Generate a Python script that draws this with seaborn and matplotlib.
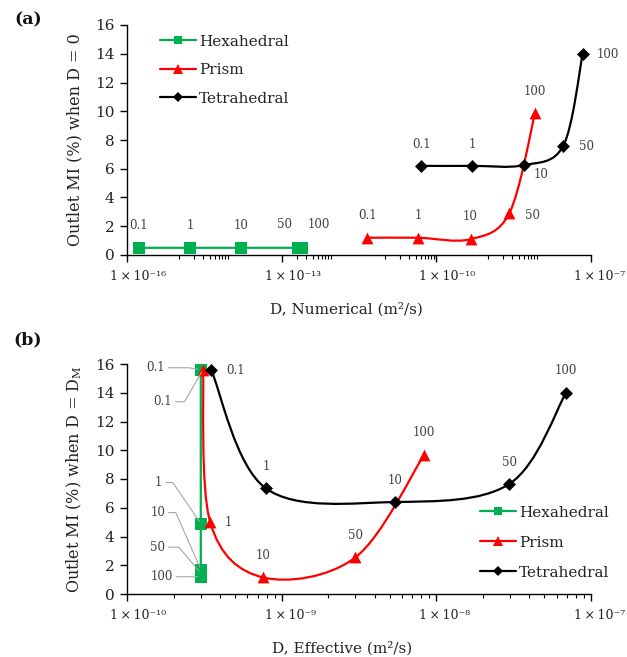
import numpy as np
import pandas as pd
import matplotlib
matplotlib.use("Agg")
import matplotlib.pyplot as plt
import seaborn as sns
from matplotlib.path import Path
from matplotlib.patches import PathPatch
from matplotlib.lines import Line2D
from matplotlib.ticker import FixedLocator, FixedFormatter, NullFormatter
from matplotlib.transforms import ScaledTranslation

# ---------------------------------------------------------------- data
mesh_types = ["Hexahedral", "Prism", "Tetrahedral"]
point_labels = ["0.1", "1", "10", "50", "100"]

# (a) outlet mixing index vs numerical diffusivity (m2/s), D = 0
hex_d_num = [1.7e-16, 1.7e-15, 1.6e-14, 2.1e-13, 2.5e-13]
hex_mi_num = [0.5, 0.5, 0.5, 0.5, 0.5]
prism_d_num = [4.6e-12, 4.4e-11, 4.6e-10, 2.6e-9, 8.2e-9]
prism_mi_num = [1.2, 1.2, 1.1, 2.9, 9.85]
tetra_d_num = [5.1e-11, 4.9e-10, 5.0e-9, 2.9e-8, 6.9e-8]
tetra_mi_num = [6.2, 6.2, 6.25, 7.6, 14.0]

# (b) outlet mixing index vs effective diffusivity (m2/s), D = DM
hex_d_eff = [3.0e-10, 3.0e-10, 3.0e-10, 3.0e-10, 3.0e-10]
hex_mi_eff = [15.6, 4.9, 1.7, 1.45, 1.2]
prism_d_eff = [3.1e-10, 3.45e-10, 7.6e-10, 3.0e-9, 8.35e-9]
prism_mi_eff = [15.6, 5.0, 1.15, 2.55, 9.7]
tetra_d_eff = [3.5e-10, 7.9e-10, 5.4e-9, 2.96e-8, 6.9e-8]
tetra_mi_eff = [15.6, 7.35, 6.4, 7.65, 14.0]

# ---------------------------------------------------------------- style
sns.set_theme(style="ticks")
plt.rcParams["font.family"] = ["DejaVu Serif"]
plt.rcParams["mathtext.fontset"] = "dejavuserif"

colors = {"Hexahedral": "#00B050", "Prism": "#FF0000", "Tetrahedral": "#000000"}
markers = {"Hexahedral": "s", "Prism": "^", "Tetrahedral": "D"}
marker_area = {"Hexahedral": 8.0 ** 2, "Prism": 8.5 ** 2, "Tetrahedral": 6.6 ** 2}
legend_ms = {"Hexahedral": 5.5, "Prism": 6.5, "Tetrahedral": 5.0}
LABEL_COLOR = "#404040"
LEADER_COLOR = "#A6A6A6"
TEXT_COLOR = "#222222"

SUPERSCRIPT = str.maketrans("-0123456789", "⁻⁰¹²³⁴⁵⁶⁷⁸⁹")


def power_label(value):
    exponent = int(round(np.log10(value)))
    return "1\u2009×\u200910" + str(exponent).translate(SUPERSCRIPT)


def make_frame(d_lists, mi_lists):
    rows = []
    for name, dv, mv in zip(mesh_types, d_lists, mi_lists):
        for lbl, d, m in zip(point_labels, dv, mv):
            rows.append({"mesh": name, "D": d, "MI": m, "label": lbl})
    return pd.DataFrame(rows)


df_num = make_frame([hex_d_num, prism_d_num, tetra_d_num],
                    [hex_mi_num, prism_mi_num, tetra_mi_num])
df_eff = make_frame([hex_d_eff, prism_d_eff, tetra_d_eff],
                    [hex_mi_eff, prism_mi_eff, tetra_mi_eff])


def smooth_path(xs, ys):
    """Cubic Bezier (Catmull-Rom style) path through the points in log-x space."""
    pts = np.column_stack([np.log10(np.asarray(xs, float)), np.asarray(ys, float)])
    n = len(pts)
    verts = [pts[0]]
    codes = [Path.MOVETO]
    for i in range(n - 1):
        p0 = pts[max(i - 1, 0)]
        p1 = pts[i]
        p2 = pts[i + 1]
        p3 = pts[min(i + 2, n - 1)]
        c1 = p1 + (p2 - p0) / 6.0
        c2 = p2 - (p3 - p1) / 6.0
        verts += [c1, c2, p2]
        codes += [Path.CURVE4] * 3
    verts = np.array(verts)
    verts[:, 0] = 10 ** verts[:, 0]
    return Path(verts, codes)


def draw_series(ax, df):
    for k, name in enumerate(mesh_types):
        sub = df[df["mesh"] == name]
        patch = PathPatch(smooth_path(sub["D"], sub["MI"]), facecolor="none",
                          edgecolor=colors[name], lw=1.6, zorder=3 + k,
                          capstyle="round", joinstyle="round")
        ax.add_patch(patch)
        sns.scatterplot(data=sub, x="D", y="MI", marker=markers[name],
                        color=colors[name], s=marker_area[name], linewidth=0,
                        legend=False, ax=ax, zorder=3.5 + k)


def annotate_points(ax, df, offsets, leaders=None):
    leaders = leaders or {}
    for name in mesh_types:
        sub = df[df["mesh"] == name].reset_index(drop=True)
        for i, row in sub.iterrows():
            dx, dy = offsets[name][i]
            kw = dict(textcoords="offset pixels", ha="center", va="center",
                      fontsize=8.5, color=LABEL_COLOR, zorder=10)
            key = (name, i)
            if key in leaders:
                cx, cy = leaders[key]
                if abs(cy) < 0.5:
                    conn = "arc3,rad=0"
                else:
                    ang = np.degrees(np.arctan2(cy, cx))
                    conn = f"angle,angleA=0,angleB={ang:.2f},rad=0"
                kw["arrowprops"] = dict(arrowstyle="-", color=LEADER_COLOR, lw=0.8,
                                        shrinkA=0, shrinkB=2, relpos=(1, 0.5),
                                        connectionstyle=conn)
            ax.annotate(row["label"], xy=(row["D"], row["MI"]), xytext=(dx, dy), **kw)


def style_axes(ax, xmin, xmax, majors, minors, xlabel, ylabel, xlabel_x):
    ax.set_xscale("log")
    ax.set_xlim(xmin, xmax)
    ax.set_ylim(0, 16)
    ax.set_yticks(np.arange(0, 17, 2))
    ax.xaxis.set_major_locator(FixedLocator(majors))
    ax.xaxis.set_major_formatter(FixedFormatter([power_label(m) for m in majors]))
    ax.xaxis.set_minor_locator(FixedLocator(minors))
    ax.xaxis.set_minor_formatter(NullFormatter())
    for s in ("top", "right"):
        ax.spines[s].set_visible(False)
    for s in ("left", "bottom"):
        ax.spines[s].set_color("#000000")
        ax.spines[s].set_linewidth(1.0)
    ax.tick_params(axis="y", which="major", direction="out", length=5, width=1,
                   color="#000000", labelsize=11, labelcolor=TEXT_COLOR, pad=4)
    ax.tick_params(axis="x", which="major", direction="out", length=5, width=1,
                   color="#000000", labelsize=9, labelcolor=TEXT_COLOR, pad=6)
    ax.tick_params(axis="x", which="minor", direction="out", length=3, width=0.8,
                   color="#000000")
    shift = ScaledTranslation(-17 / 100, 0, ax.figure.dpi_scale_trans)
    for lab in ax.get_xticklabels():
        lab.set_horizontalalignment("left")
        lab.set_transform(lab.get_transform() + shift)
    ax.set_xlabel(xlabel, fontsize=11, color=TEXT_COLOR)
    ax.set_ylabel(ylabel, fontsize=11.5, color=TEXT_COLOR)
    ax.xaxis.set_label_coords(xlabel_x, -0.205)
    ax.yaxis.set_label_coords(-0.093, 0.5)
    ax.set_facecolor("white")
    ax.grid(False)


def add_legend(ax, anchor, spacing):
    handles = [Line2D([], [], color=colors[n], marker=markers[n], ms=legend_ms[n],
                      lw=1.6, markeredgewidth=0) for n in mesh_types]
    ax.legend(handles, mesh_types, loc="upper left", bbox_to_anchor=anchor,
              frameon=False, fontsize=11, handlelength=2.35, handletextpad=0.2,
              labelspacing=spacing, borderpad=0, borderaxespad=0,
              labelcolor=TEXT_COLOR)


fig = plt.figure(figsize=(6.27, 6.57), dpi=100)
fig.patch.set_facecolor("white")
W, H = 627, 657
ax_a = fig.add_axes([127 / W, 1 - 255 / H, 464 / W, 230 / H])
ax_b = fig.add_axes([127 / W, 1 - 594 / H, 464 / W, 230 / H])

# ---------------------------------------------------------------- panel (a)
draw_series(ax_a, df_num)
minors_a = ([k * 1e-15 for k in range(1, 10)]
            + [k * 1e-13 for k in range(2, 10)]
            + [k * 1e-11 for k in range(1, 10)]
            + [k * 1e-9 for k in range(1, 10)])
style_axes(ax_a, 1e-16, 1e-7, [1e-16, 1e-13, 1e-10, 1e-7], minors_a,
           "D, Numerical (m²/s)", "Outlet MI (%) when D = 0", 0.474)
offsets_a = {
    "Hexahedral": [(0, 22), (0, 22), (0, 22), (-14, 23), (17, 23)],
    "Prism": [(0, 22), (0, 22), (0, 23), (23, -2), (0, 22)],
    "Tetrahedral": [(0, 21), (0, 21), (17, -9), (23, -1), (25, -1)],
}
annotate_points(ax_a, df_num, offsets_a)
add_legend(ax_a, (0.071, 0.958), 0.95)

# ---------------------------------------------------------------- panel (b)
draw_series(ax_b, df_eff)
minors_b = [k * 10.0 ** e for e in (-10, -9, -8) for k in range(2, 10)]
style_axes(ax_b, 1e-10, 1e-7, [1e-10, 1e-9, 1e-8, 1e-7], minors_b,
           "D, Effective (m²/s)", r"Outlet MI (%) when D = D$_{\mathregular{M}}$", 0.463)
offsets_b = {
    "Hexahedral": [(-45, 2), (-42, 41), (-43, 57), (-43, 26), (-39, 0)],
    "Prism": [(-40, -32), (18, 0), (0, 22), (0, 22), (0, 22)],
    "Tetrahedral": [(24, -1), (0, 22), (0, 22), (0, 22), (0, 22)],
}
leader_corners_b = {
    ("Hexahedral", 0): (-12, 2),
    ("Hexahedral", 1): (-28, 41),
    ("Hexahedral", 2): (-25, 57),
    ("Hexahedral", 3): (-22, 26),
    ("Hexahedral", 4): (0, 0),
    ("Prism", 0): (-18, -31),
}
annotate_points(ax_b, df_eff, offsets_b, leader_corners_b)
add_legend(ax_b, (0.761, 0.384), 1.05)

fig.text(28 / W, 1 - 20 / H, "(a)", fontsize=12.5, fontweight="bold",
         ha="center", va="center", color="#111111")
fig.text(28 / W, 1 - 340 / H, "(b)", fontsize=12.5, fontweight="bold",
         ha="center", va="center", color="#111111")

fig.savefig("out.png", dpi=100, facecolor="white")
